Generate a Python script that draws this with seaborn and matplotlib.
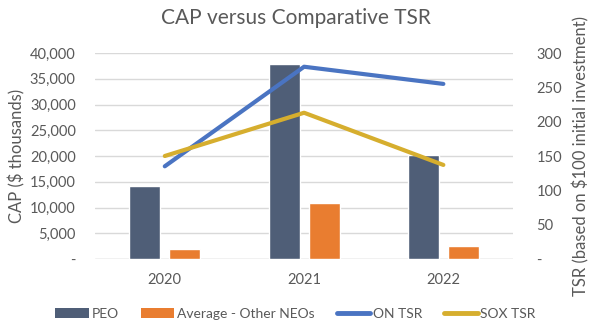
import matplotlib
matplotlib.use("Agg")
import matplotlib.pyplot as plt
import seaborn as sns
import numpy as np
import pandas as pd
from matplotlib.ticker import FuncFormatter, MultipleLocator
from matplotlib.patches import Patch
from matplotlib.lines import Line2D

years = ["2020", "2021", "2022"]
peo = [14200, 37800, 20200]
avg_neo = [2000, 10900, 2500]
on_tsr = [135, 280, 255]
sox_tsr = [150, 213, 137]

bar_names = ["PEO", "Average - Other NEOs"]
line_names = ["ON TSR", "SOX TSR"]
bar_colors = ["#4F5E77", "#E97D30"]
line_colors = ["#4A74C2", "#D6AE2E"]
text_color = "#595959"
grid_color = "#D9D9D9"

sns.set_theme(style="white")
plt.rcParams["font.family"] = ["Lato", "DejaVu Sans"]

bars_df = pd.DataFrame({
    "Year": years * 2,
    "Value": peo + avg_neo,
    "Series": [bar_names[0]] * 3 + [bar_names[1]] * 3,
})
lines_df = pd.DataFrame({
    "pos": list(range(len(years))) * 2,
    "Value": on_tsr + sox_tsr,
    "Series": [line_names[0]] * 3 + [line_names[1]] * 3,
})

fig = plt.figure(figsize=(5.91, 3.24), dpi=100)
ax = fig.add_axes([0.161, 0.2006, 0.707, 0.6358])

sns.barplot(data=bars_df, x="Year", y="Value", hue="Series",
            palette=bar_colors, width=0.574, gap=0.225, ax=ax,
            saturation=1, legend=False, zorder=2)
ax.set_ylim(0, 40000)
ax.set_xlim(-0.5, 2.5)
ax.yaxis.set_major_locator(MultipleLocator(5000))
ax.yaxis.set_major_formatter(FuncFormatter(lambda v, p: "-" if v == 0 else f"{int(v):,}"))
ax.grid(axis="y", color=grid_color, linewidth=1, zorder=0)
ax.set_axisbelow(True)
for s in ax.spines.values():
    s.set_visible(False)
ax.axhline(0, color=grid_color, linewidth=1, zorder=1)
ax.tick_params(axis="both", length=0, colors=text_color, labelsize=10.5, pad=14)
ax.tick_params(axis="x", pad=10)
ax.set_xlabel("")
ax.set_ylabel("CAP ($ thousands)", color=text_color, fontsize=12, labelpad=3)

ax2 = ax.twinx()
sns.lineplot(data=lines_df, x="pos", y="Value", hue="Series",
             palette=line_colors, linewidth=3, ax=ax2, legend=False,
             zorder=3)
ax2.set_ylim(0, 300)
ax2.set_xlim(-0.5, 2.5)
ax2.yaxis.set_major_locator(MultipleLocator(50))
ax2.yaxis.set_major_formatter(FuncFormatter(lambda v, p: "-" if v == 0 else f"{int(v)}"))
for s in ax2.spines.values():
    s.set_visible(False)
ax2.tick_params(axis="y", length=0, colors=text_color, labelsize=10.5, pad=17)
ax2.set_xlabel("")
ax2.set_ylabel("TSR (based on $100 initial investment)", color=text_color,
               fontsize=12, labelpad=7)

fig.suptitle("CAP versus Comparative TSR", x=0.5, y=0.975,
             color=text_color, fontsize=15)

handles = [Patch(facecolor=c, edgecolor="none") for c in bar_colors] + \
          [Line2D([0], [0], color=c, linewidth=3.5) for c in line_colors]
fig.legend(handles, bar_names + line_names, loc="lower center",
           bbox_to_anchor=(0.5, -0.025), ncol=4, frameon=False,
           fontsize=10, labelcolor=text_color, handlelength=2.4,
           handleheight=0.75, columnspacing=1.6, handletextpad=0.2)

fig.savefig("out.png", dpi=100)
